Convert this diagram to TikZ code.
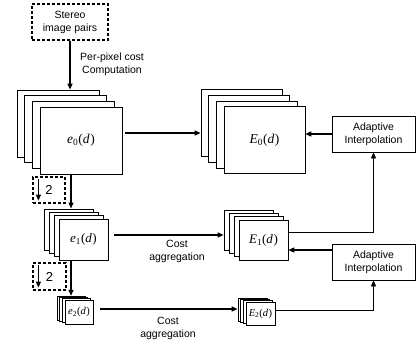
\documentclass[tikz,border=0pt]{standalone}
\usepackage{fontspec}
\setmainfont{Liberation Sans}
\newfontfamily\lblfont{Liberation Serif}
\usetikzlibrary{arrows.meta,positioning}

\newcommand{\cost}[2]{{\lblfont\textit{#1}\textsubscript{#2}(\textit{d\kern0.05em})}}

\tikzset{
  sheet/.style={draw, fill=white, line width=0.6pt, inner sep=0pt},
  dashbox/.style={draw, line width=1.2pt, dash pattern=on 3pt off 2pt, inner sep=0pt},
  procbox/.style={draw, line width=0.7pt, minimum width=83pt, minimum height=36pt, align=center},
  arr/.style={-{Triangle[length=6pt,width=5pt]}, line width=1.4pt},
  thinarr/.style={-{Triangle[length=6pt,width=5pt]}, line width=0.7pt},
  lbl/.style={align=center, font=\fontsize{10.5}{13}\selectfont}
}

\begin{document}
\begin{tikzpicture}[x=1pt,y=-1pt]
\useasboundingbox (0,0) rectangle (416,346);

% input images
\node[dashbox, lbl, minimum width=76pt, minimum height=36pt] (stereo) at (70,22) {Stereo\\image pairs};
\node[lbl] (ppc) at (112,64) {Per-pixel cost\\Computation};

% level 0
\foreach \k in {3,2,1}
  \node[sheet, minimum width=82pt, minimum height=67pt] (e0b\k) at (81-7.7*\k,140.5-5.7*\k) {};
\node[sheet, minimum width=82pt, minimum height=67pt, font=\fontsize{13.5}{13.5}\selectfont] (e0) at (81,140.5) {\cost{e}{0}};
\foreach \k in {3,2,1}
  \node[sheet, minimum width=81pt, minimum height=67pt] (E0b\k) at (264.5-7.7*\k,140-5.7*\k) {};
\node[sheet, minimum width=81pt, minimum height=67pt, font=\fontsize{13.5}{13.5}\selectfont] (E0) at (264.5,140) {\cost{E}{0}};
\node[procbox, lbl] (interp1) at (373.5,134) {Adaptive\\Interpolation};

% level 1
\foreach \k in {3,2,1}
  \node[sheet, minimum width=49pt, minimum height=41pt] (e1b\k) at (83.5-5*\k,239.5-3.4*\k) {};
\node[sheet, minimum width=49pt, minimum height=41pt, font=\fontsize{13}{13}\selectfont] (e1) at (83.5,239.5) {\cost{e}{1}};
\foreach \k in {3,2,1}
  \node[sheet, minimum width=49pt, minimum height=40pt] (E1b\k) at (263.5-5*\k,240-3.4*\k) {};
\node[sheet, minimum width=49pt, minimum height=40pt, font=\fontsize{13}{13}\selectfont] (E1) at (263.5,240) {\cost{E}{1}};
\node[procbox, lbl] (interp2) at (373.5,262) {Adaptive\\Interpolation};
\node[lbl] (agg1) at (177,251) {Cost\\aggregation};

% level 2
\foreach \k in {3,2,1}
  \node[sheet, minimum width=28pt, minimum height=24pt] (e2b\k) at (79-2.7*\k,312-1.3*\k) {};
\node[sheet, minimum width=28pt, minimum height=24pt, font=\fontsize{10.5}{10.5}\selectfont] (e2) at (79,312) {\cost{e}{2}};
\foreach \k in {3,2,1}
  \node[sheet, minimum width=29pt, minimum height=23pt] (E2b\k) at (260.5-2.7*\k,313.5-1.3*\k) {};
\node[sheet, minimum width=29pt, minimum height=23pt, font=\fontsize{10.5}{10.5}\selectfont] (E2) at (260.5,313.5) {\cost{E}{2}};
\node[lbl] (agg2) at (168,328) {Cost\\aggregation};

% downsampling
\node[dashbox, minimum width=32pt, minimum height=26pt, font=\fontsize{13}{13}\selectfont] (down1) at (49,190) {2};
\node[dashbox, minimum width=33pt, minimum height=27pt, font=\fontsize{13}{13}\selectfont] (down2) at (49.5,276.5) {2};
\draw[arr, line width=1pt] ([shift={(6pt,-3pt)}]down1.north west) -- ([shift={(6pt,3pt)}]down1.south west);
\draw[arr, line width=1pt] ([shift={(6pt,-3pt)}]down2.north west) -- ([shift={(6pt,3pt)}]down2.south west);

% connectors
\draw[arr] (stereo) -- (stereo |- e0b3.north);
\draw[arr, shorten <=3pt] ([yshift=7.5pt]e0.east) -- ([yshift=7.5pt]e0.east -| E0b3.west);
\draw[arr] (interp1) -- (interp1 -| E0.east);
\draw[arr] ([xshift=-10pt]e0.south) -- ([xshift=-10pt]e0.south |- e1b3.north);
\draw[arr, shorten <=6pt] ([yshift=4.5pt]e1.east) -- ([yshift=4.5pt]e1.east -| E1b3.west);
\draw[thinarr] ([yshift=8pt]E1.east) -| (interp1.south);
\draw[arr] ([yshift=12pt]interp2.west) -- ([yshift=12pt]interp2.west -| E1.east);
\draw[arr] ([xshift=-12.5pt]e1.south) -- ([xshift=-12.5pt]e1.south |- e2b3.north);
\draw[arr, shorten <=7pt] ([yshift=3pt]e2.east) -- ([yshift=3pt]e2.east -| E2b3.west);
\draw[thinarr] ([yshift=3.5pt]E2.east) -| (interp2.south);
\end{tikzpicture}
\end{document}
